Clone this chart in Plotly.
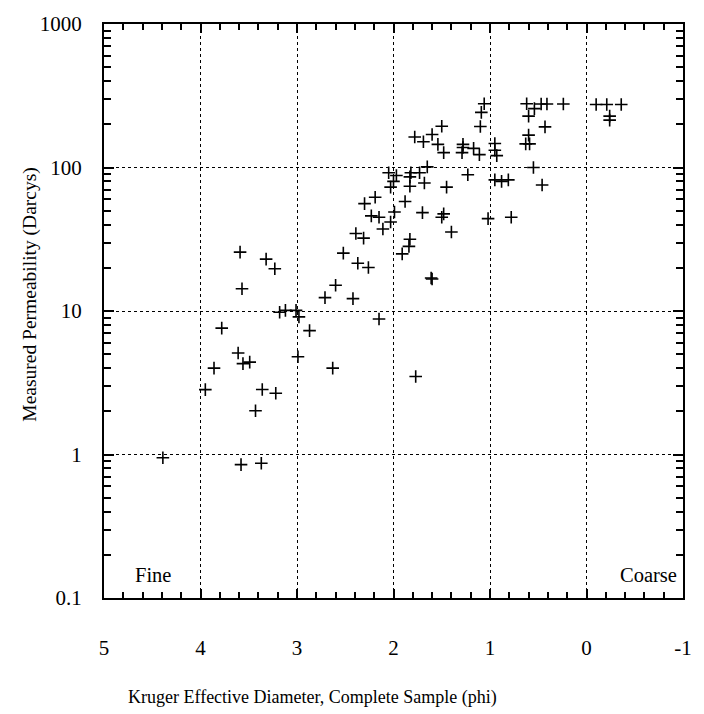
import plotly.graph_objects as go

# Kruger effective diameter (phi) and measured permeability (Darcys)
phi = [
    3.59, 3.32, 3.23, 3.57, 2.52, 2.60, 2.71, 3.18, 3.12, 3.01, 2.98, 2.87, 3.78,
    3.61, 2.99, 3.86, 3.56, 3.49, 2.63, 3.95, 3.36, 3.22, 3.43, 4.39, 3.58, 3.37,
    1.06, 1.09, 1.10, 1.50, 1.60, 1.78, 1.69, 1.54, 1.48, 1.28, 1.28, 1.17, 1.29,
    1.11, 0.95, 0.95, 0.93, 1.65, 1.23, 2.05, 1.97, 1.82, 1.83, 1.73, 2.00, 2.03,
    1.83, 1.68, 1.45, 0.95, 0.88, 0.81, 2.19, 2.30, 1.88, 2.23, 2.15, 1.99, 1.70,
    1.50, 1.48, 1.02, 0.78, 2.11, 2.03, 2.39, 2.31, 1.40, 1.83, 1.84, 1.91, 2.37,
    2.26, 1.61, 1.60, 2.42, 2.15, 1.77,
    0.62, 0.54, 0.47, 0.41, 0.24, 0.60, 0.43, 0.60, 0.63, 0.59, 0.55, 0.46,
    -0.10, -0.21, -0.36, -0.24, -0.24,
]
permeability = [
    25.7, 23.0, 19.7, 14.3, 25.3, 15.1, 12.4, 9.8, 10.1, 10.1, 9.1, 7.3, 7.6,
    5.1, 4.8, 4.0, 4.3, 4.4, 4.0, 2.83, 2.84, 2.67, 2.02, 0.95, 0.85, 0.87,
    278, 242, 193, 194, 170, 163, 151, 145, 127, 145, 138, 136, 127,
    123, 147, 132, 121, 101, 89, 92, 88, 92, 86, 92, 80, 73,
    74, 78, 73, 82, 80, 82, 62, 56, 58, 46, 45, 49, 48.5,
    45, 47.5, 44, 45, 37.3, 41.7, 34.7, 32.2, 35.5, 31.6, 28.2, 25.0, 21.5,
    20.1, 17.0, 16.7, 12.2, 8.8, 3.5,
    278, 257, 277, 277, 277, 228, 192, 168, 146, 146, 100, 75.5,
    275, 275, 275, 228, 214,
]

x_ticks = [5, 4, 3, 2, 1, 0, -1]
x_ticklabels = ["5", "4", "3", "2", "1", "0", "-1"]
y_ticks = [0.1, 1, 10, 100, 1000]
y_ticklabels = ["0.1", "1", "10", "100", "1000"]

FONT = "Liberation Serif"

fig = go.Figure()
fig.add_trace(go.Scatter(
    x=phi, y=permeability, mode="markers",
    marker=dict(symbol="cross-thin", size=9, line=dict(color="black", width=1.6), color="black"),
    showlegend=False, hoverinfo="x+y",
))

minor_y = [m * 10 ** e for e in (-1, 0, 1, 2) for m in range(2, 10)]

fig.update_xaxes(
    range=[5, -1], tickvals=x_ticks, ticktext=x_ticklabels,
    showgrid=True, gridcolor="black", griddash="dot", gridwidth=1,
    showline=True, linecolor="black", linewidth=2, mirror="allticks",
    ticks="inside", ticklen=9, tickwidth=2, tickcolor="black",
    minor=dict(dtick=0.2, ticks="inside", ticklen=6, tickwidth=1.5, tickcolor="black", showgrid=False),
    zeroline=False, ticklabelstandoff=30,
    tickfont=dict(family=FONT, size=21, color="black"),
)
fig.update_yaxes(
    type="log", range=[-1, 3], tickvals=y_ticks, ticktext=y_ticklabels,
    showgrid=True, gridcolor="black", griddash="dot", gridwidth=1,
    showline=True, linecolor="black", linewidth=2, mirror="allticks",
    ticks="inside", ticklen=10, tickwidth=2, tickcolor="black",
    minor=dict(tickvals=minor_y, ticks="inside", ticklen=7, tickwidth=1.5, tickcolor="black", showgrid=False),
    zeroline=False, ticklabelstandoff=16,
    tickfont=dict(family=FONT, size=21, color="black"),
)

fig.add_annotation(text="Measured Permeability (Darcys)", xref="paper", yref="paper",
                   x=-0.128, y=0.53, xanchor="center", yanchor="middle", textangle=-90,
                   showarrow=False, font=dict(family=FONT, size=19.5, color="black"))
fig.add_annotation(text="Kruger Effective Diameter, Complete Sample (phi)", xref="paper", yref="paper",
                   x=0.36, y=-0.174, xanchor="center", yanchor="middle", showarrow=False,
                   font=dict(family=FONT, size=18, color="black"))
fig.add_annotation(text="Fine", xref="paper", yref="paper", x=0.05, y=0.04,
                   xanchor="left", yanchor="middle", showarrow=False,
                   font=dict(family=FONT, size=20.5, color="black"))
fig.add_annotation(text="Coarse", xref="paper", yref="paper", x=0.993, y=0.04,
                   xanchor="right", yanchor="middle", showarrow=False,
                   font=dict(family=FONT, size=20.5, color="black"))

fig.update_layout(
    width=704, height=714,
    margin=dict(l=104, r=14, t=13, b=116),
    paper_bgcolor="white", plot_bgcolor="white",
    font=dict(family=FONT, color="black"),
)

fig.write_html("out.html")
